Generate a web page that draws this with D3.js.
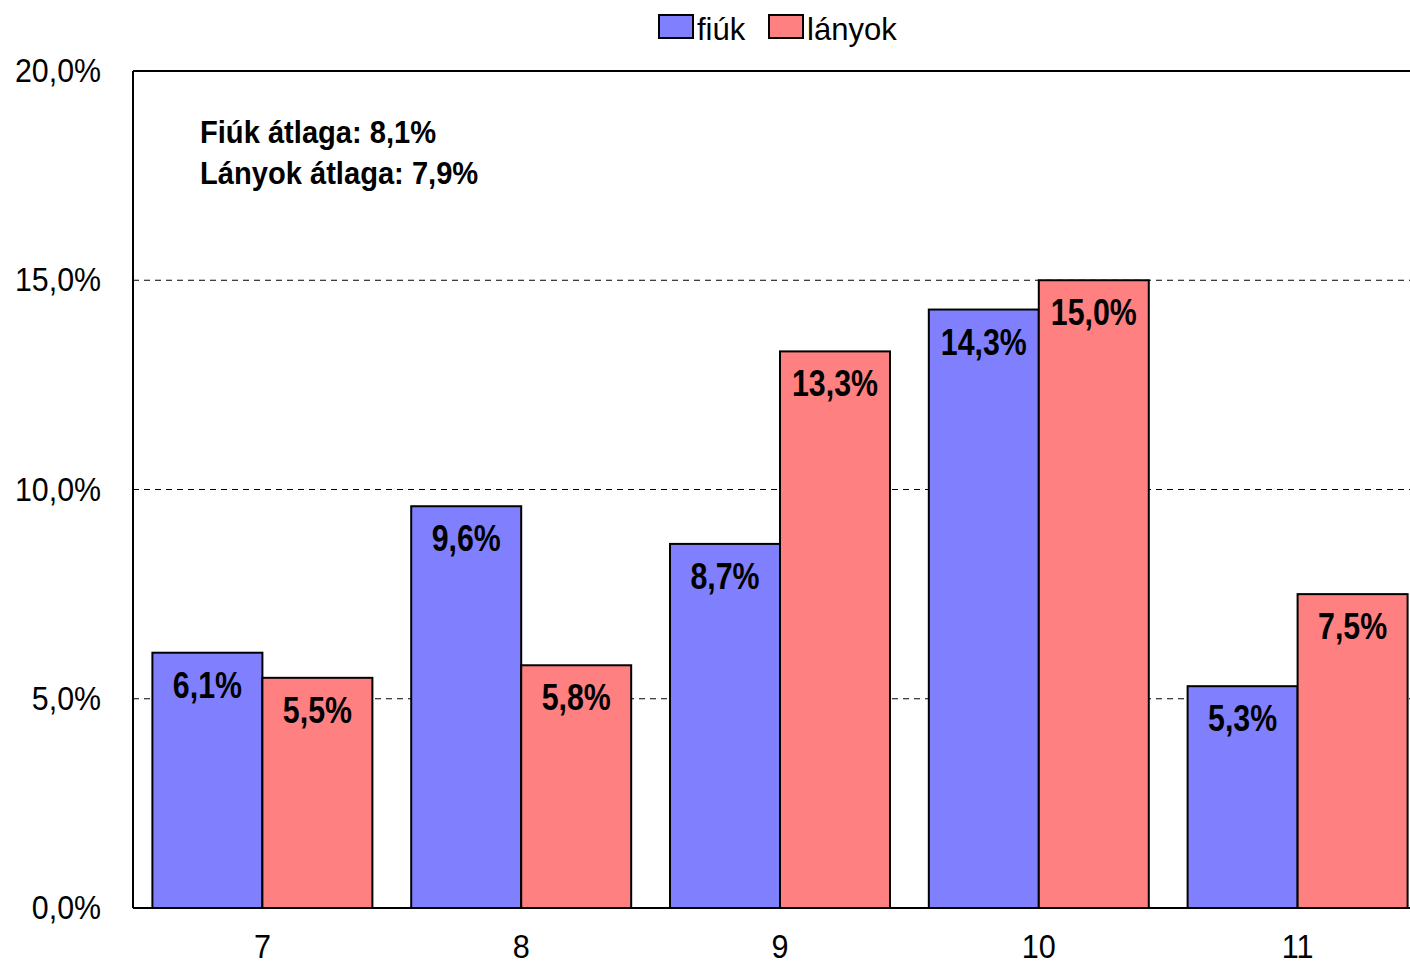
<!DOCTYPE html>
<html>
<head>
<meta charset="utf-8">
<script src="https://cdn.jsdelivr.net/npm/d3@7"></script>
<style>
  body { margin: 0; background: #fff; }
  text { font-family: "Liberation Sans Narrow", "Arial Narrow", "Liberation Sans", sans-serif; }
</style>
</head>
<body>
<div id="chart"></div>
<script>
var grades = ["7", "8", "9", "10", "11"]
var fiuk = [6.1, 9.6, 8.7, 14.3, 5.3]
var lanyok = [5.5, 5.8, 13.3, 15.0, 7.5]
var yTicks = [0, 5, 10, 15, 20]
var seriesNames = ["fiúk", "lányok"]
var notes = ["Fiúk átlaga: 8,1%", "Lányok átlaga: 7,9%"]

var svgSize = { width: 1410, height: 964 }
var margin = { top: 71, bottom: 56, left: 133, right: 0 }
var chartSize = {
    width: svgSize.width - margin.left - margin.right,
    height: svgSize.height - margin.top - margin.bottom
}

var colors = ["#8080ff", "#ff8080"]

var svg = d3.select("#chart")
    .append("svg")
    .attr("width", svgSize.width)
    .attr("height", svgSize.height)

var frame = svg.append("g")
    .attr("transform", `translate(${margin.left}, ${margin.top})`)

// the last group runs past the right edge in the original
var xScale = d3.scaleBand()
    .domain(grades)
    .range([0, chartSize.width + 17])
    .paddingInner(0.15)
    .paddingOuter(0.075)

var inner = d3.scaleBand()
    .domain([0, 1])
    .range([0, xScale.bandwidth()])

var yScale = d3.scaleLinear()
    .domain([0, 20])
    .range([chartSize.height, 0])

var fmt = v => d3.format(".1f")(v).replace(".", ",") + "%"

// narrow-font look: squeeze text horizontally
function squeeze(sel, xf, yf, sx) {
    sel.attr("transform", (d, i) => `translate(${xf(d, i)}, ${yf(d, i)}) scale(${sx}, 1)`)
}

// dashed gridlines
frame.append("g").selectAll("line")
    .data(yTicks.filter(t => t > 0 && t < 20))
    .enter()
    .append("line")
    .attr("x1", 0)
    .attr("x2", chartSize.width)
    .attr("y1", d => yScale(d))
    .attr("y2", d => yScale(d))
    .attr("stroke", "#000")
    .attr("stroke-width", 1)
    .attr("stroke-dasharray", "6,5")

// y axis labels
frame.append("g").selectAll("text")
    .data(yTicks)
    .enter()
    .append("text")
    .attr("text-anchor", "end")
    .attr("font-size", 33)
    .text(fmt)
    .call(squeeze, () => -32, d => yScale(d) + 11, 0.92)

// bars
var rows = grades.map((g, i) => ({ grade: g, vals: [fiuk[i], lanyok[i]] }))

var groups = frame.append("g").selectAll("g")
    .data(rows)
    .enter()
    .append("g")
    .attr("transform", d => `translate(${xScale(d.grade)}, 0)`)

groups.selectAll("rect")
    .data(d => d.vals.map((v, j) => ({ v: v, j: j })))
    .enter()
    .append("rect")
    .attr("x", d => inner(d.j))
    .attr("y", d => yScale(d.v))
    .attr("width", inner.bandwidth())
    .attr("height", d => chartSize.height - yScale(d.v))
    .attr("fill", d => colors[d.j])
    .attr("stroke", "#000")
    .attr("stroke-width", 2)

groups.selectAll("text")
    .data(d => d.vals.map((v, j) => ({ v: v, j: j })))
    .enter()
    .append("text")
    .attr("text-anchor", "middle")
    .attr("font-size", 37)
    .attr("font-weight", "bold")
    .text(d => fmt(d.v))
    .call(squeeze, d => inner(d.j) + inner.bandwidth() / 2, d => yScale(d.v) + 45, 0.82)

// frame lines
frame.append("line")
    .attr("x1", 0).attr("x2", 0)
    .attr("y1", 0).attr("y2", chartSize.height)
    .attr("stroke", "#000").attr("stroke-width", 2)
frame.append("line")
    .attr("x1", 0).attr("x2", chartSize.width)
    .attr("y1", 0).attr("y2", 0)
    .attr("stroke", "#000").attr("stroke-width", 2)
frame.append("line")
    .attr("x1", 0).attr("x2", chartSize.width)
    .attr("y1", chartSize.height).attr("y2", chartSize.height)
    .attr("stroke", "#000").attr("stroke-width", 2)

// x labels
frame.append("g").selectAll("text")
    .data(grades)
    .enter()
    .append("text")
    .attr("text-anchor", "middle")
    .attr("font-size", 34)
    .text(d => d)
    .call(squeeze, d => xScale(d) + xScale.bandwidth() / 2, () => chartSize.height + 50, 0.9)

// average notes
frame.append("g").selectAll("text")
    .data(notes)
    .enter()
    .append("text")
    .attr("font-size", 32)
    .attr("font-weight", "bold")
    .text(d => d)
    .call(squeeze, () => 67, (d, i) => 72 + i * 41, 0.91)

// legend
var legendX = [659, 769]
var legend = svg.append("g").selectAll("g")
    .data(seriesNames)
    .enter()
    .append("g")
    .attr("transform", (d, i) => `translate(${legendX[i]}, 15)`)

legend.append("rect")
    .attr("width", 34)
    .attr("height", 23)
    .attr("fill", (d, i) => colors[i])
    .attr("stroke", "#000")
    .attr("stroke-width", 2)

legend.append("text")
    .attr("font-size", 32)
    .text(d => d)
    .call(squeeze, () => 38, () => 25, 0.97)
</script>
</body>
</html>
